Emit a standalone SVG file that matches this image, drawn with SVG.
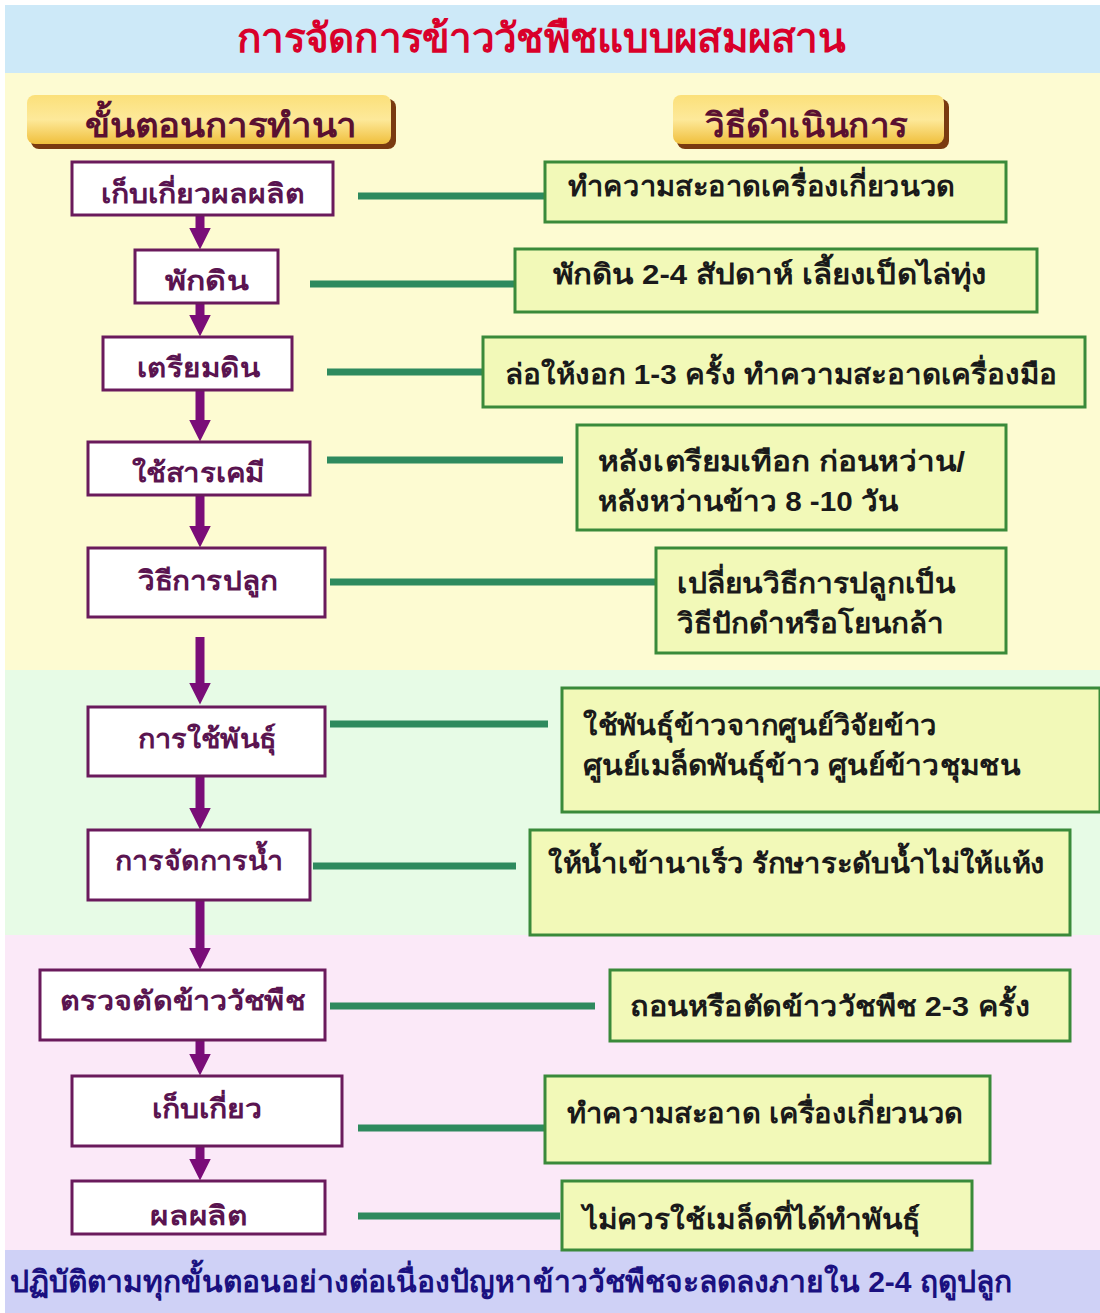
<svg xmlns="http://www.w3.org/2000/svg" width="1100" height="1313" viewBox="0 0 1100 1313">
<defs>
<linearGradient id="hdr" x1="0" y1="0" x2="0" y2="1">
<stop offset="0" stop-color="#fbe07a"/>
<stop offset="0.5" stop-color="#fde99a"/>
<stop offset="1" stop-color="#f0bf3c"/>
</linearGradient>
<marker id="ah" viewBox="0 0 10 10" refX="0.5" refY="5" markerWidth="2.4" markerHeight="3" orient="auto" markerUnits="strokeWidth">
<path d="M0,0 L10,5 L0,10 Z" fill="#7a0d78"/>
</marker>
</defs>
<style>
text{font-family:"Liberation Sans","Noto Sans","DejaVu Sans",sans-serif;font-weight:bold}
.node{fill:#ffffff;stroke:#6a1a5c;stroke-width:3}
.nt{fill:#5a1450;font-size:27px}
.box{fill:#f2f9b8;stroke:#3a8a3a;stroke-width:3}
.bt{fill:#1a1a1a;font-size:28px}
.link{stroke:#2e8a5e;stroke-width:7;fill:none}
.arr{stroke:#7a0d78;stroke-width:9;fill:none;marker-end:url(#ah)}
.ht{fill:#5a1030;font-size:34px}
</style>
<rect x="0" y="0" width="1100" height="1313" fill="#ffffff"/>
<rect x="5" y="5" width="1095" height="68" fill="#cde9f8"/>
<rect x="5" y="73" width="1095" height="597" fill="#fdfbd2"/>
<rect x="5" y="670" width="1095" height="265" fill="#e7fbe6"/>
<rect x="5" y="935" width="1095" height="315" fill="#fbe9f8"/>
<rect x="5" y="1250" width="1095" height="63" fill="#cfd1f6"/>
<text x="541" y="52" text-anchor="middle" fill="#d9002a" font-size="40" textLength="608" lengthAdjust="spacingAndGlyphs">การจัดการข้าววัชพืชแบบผสมผสาน</text>
<g id="header-left">
<rect x="31" y="99" width="365" height="50" rx="8" fill="#7a3a10"/>
<rect x="27" y="95" width="364" height="49" rx="8" fill="url(#hdr)"/>
<text class="ht" x="85" y="137" textLength="272" lengthAdjust="spacingAndGlyphs">ขั้นตอนการทำนา</text>
</g>
<g id="header-right">
<rect x="677" y="99" width="272" height="50" rx="8" fill="#7a3a10"/>
<rect x="673" y="95" width="271" height="49" rx="8" fill="url(#hdr)"/>
<text class="ht" x="705" y="137" textLength="203" lengthAdjust="spacingAndGlyphs">วิธีดำเนินการ</text>
</g>
<g id="connectors">
<line class="link" x1="358" y1="196" x2="545" y2="196"/>
<line class="link" x1="310" y1="284" x2="515" y2="284"/>
<line class="link" x1="327" y1="372" x2="483" y2="372"/>
<line class="link" x1="327" y1="460" x2="563" y2="460"/>
<line class="link" x1="330" y1="582" x2="656" y2="582"/>
<line class="link" x1="330" y1="724" x2="548" y2="724"/>
<line class="link" x1="313" y1="866" x2="516" y2="866"/>
<line class="link" x1="330" y1="1006" x2="595" y2="1006"/>
<line class="link" x1="358" y1="1128" x2="545" y2="1128"/>
<line class="link" x1="358" y1="1216" x2="560" y2="1216"/>
<line class="arr" x1="200" y1="215" x2="200" y2="229"/>
<line class="arr" x1="200" y1="303" x2="200" y2="316"/>
<line class="arr" x1="200" y1="390" x2="200" y2="421"/>
<line class="arr" x1="200" y1="495" x2="200" y2="527"/>
<line class="arr" x1="200" y1="637" x2="200" y2="684"/>
<line class="arr" x1="200" y1="776" x2="200" y2="809"/>
<line class="arr" x1="200" y1="900" x2="200" y2="949"/>
<line class="arr" x1="200" y1="1040" x2="200" y2="1055"/>
<line class="arr" x1="200" y1="1146" x2="200" y2="1160"/>
</g>
<g id="n1"><rect class="node" x="72" y="162" width="261" height="53"/><text class="nt" x="101" y="203" textLength="204" lengthAdjust="spacingAndGlyphs">เก็บเกี่ยวผลผลิต</text></g>
<g id="n2"><rect class="node" x="135" y="250" width="143" height="53"/><text class="nt" x="165" y="290" textLength="83" lengthAdjust="spacingAndGlyphs">พักดิน</text></g>
<g id="n3"><rect class="node" x="103" y="337" width="189" height="53"/><text class="nt" x="137" y="377" textLength="123" lengthAdjust="spacingAndGlyphs">เตรียมดิน</text></g>
<g id="n4"><rect class="node" x="88" y="442" width="222" height="53"/><text class="nt" x="132" y="482" textLength="133" lengthAdjust="spacingAndGlyphs">ใช้สารเคมี</text></g>
<g id="n5"><rect class="node" x="88" y="548" width="237" height="69"/><text class="nt" x="138" y="590" textLength="140" lengthAdjust="spacingAndGlyphs">วิธีการปลูก</text></g>
<g id="n6"><rect class="node" x="88" y="707" width="237" height="69"/><text class="nt" x="138" y="748" textLength="138" lengthAdjust="spacingAndGlyphs">การใช้พันธุ์</text></g>
<g id="n7"><rect class="node" x="88" y="830" width="222" height="70"/><text class="nt" x="115" y="870" textLength="168" lengthAdjust="spacingAndGlyphs">การจัดการน้ำ</text></g>
<g id="n8"><rect class="node" x="40" y="970" width="285" height="70"/><text class="nt" x="60" y="1010" textLength="245" lengthAdjust="spacingAndGlyphs">ตรวจตัดข้าววัชพืช</text></g>
<g id="n9"><rect class="node" x="72" y="1076" width="270" height="70"/><text class="nt" x="152" y="1118" textLength="110" lengthAdjust="spacingAndGlyphs">เก็บเกี่ยว</text></g>
<g id="n10"><rect class="node" x="72" y="1181" width="253" height="53"/><text class="nt" x="150" y="1225" textLength="98" lengthAdjust="spacingAndGlyphs">ผลผลิต</text></g>
<g id="b1"><rect class="box" x="545" y="162" width="461" height="60"/><text class="bt" x="568" y="196" textLength="387" lengthAdjust="spacingAndGlyphs">ทำความสะอาดเครื่องเกี่ยวนวด</text></g>
<g id="b2"><rect class="box" x="515" y="249" width="522" height="63"/><text class="bt" x="553" y="284" textLength="434" lengthAdjust="spacingAndGlyphs">พักดิน 2-4 สัปดาห์   เลี้ยงเป็ดไล่ทุ่ง</text></g>
<g id="b3"><rect class="box" x="483" y="337" width="602" height="70"/><text class="bt" x="505" y="384" textLength="552" lengthAdjust="spacingAndGlyphs">ล่อให้งอก  1-3 ครั้ง ทำความสะอาดเครื่องมือ</text></g>
<g id="b4"><rect class="box" x="577" y="425" width="429" height="105"/><text class="bt" x="598" y="471" textLength="367" lengthAdjust="spacingAndGlyphs">หลังเตรียมเทือก ก่อนหว่าน/</text><text class="bt" x="598" y="511" textLength="300" lengthAdjust="spacingAndGlyphs">หลังหว่านข้าว 8 -10 วัน</text></g>
<g id="b5"><rect class="box" x="656" y="548" width="350" height="105"/><text class="bt" x="677" y="593" textLength="278" lengthAdjust="spacingAndGlyphs">เปลี่ยนวิธีการปลูกเป็น</text><text class="bt" x="677" y="633" textLength="267" lengthAdjust="spacingAndGlyphs">วิธีปักดำหรือโยนกล้า</text></g>
<g id="b6"><rect class="box" x="562" y="688" width="538" height="124"/><text class="bt" x="583" y="735" textLength="354" lengthAdjust="spacingAndGlyphs">ใช้พันธุ์ข้าวจากศูนย์วิจัยข้าว</text><text class="bt" x="583" y="775" textLength="437" lengthAdjust="spacingAndGlyphs">ศูนย์เมล็ดพันธุ์ข้าว ศูนย์ข้าวชุมชน</text></g>
<g id="b7"><rect class="box" x="530" y="830" width="540" height="105"/><text class="bt" x="548" y="873" textLength="497" lengthAdjust="spacingAndGlyphs">ให้น้ำเข้านาเร็ว รักษาระดับน้ำไม่ให้แห้ง</text></g>
<g id="b8"><rect class="box" x="610" y="970" width="460" height="71"/><text class="bt" x="630" y="1016" textLength="400" lengthAdjust="spacingAndGlyphs">ถอนหรือตัดข้าววัชพืช  2-3 ครั้ง</text></g>
<g id="b9"><rect class="box" x="545" y="1076" width="445" height="87"/><text class="bt" x="567" y="1123" textLength="396" lengthAdjust="spacingAndGlyphs">ทำความสะอาด เครื่องเกี่ยวนวด</text></g>
<g id="b10"><rect class="box" x="562" y="1181" width="410" height="69"/><text class="bt" x="583" y="1229" textLength="337" lengthAdjust="spacingAndGlyphs">ไม่ควรใช้เมล็ดที่ได้ทำพันธุ์</text></g>
<text x="10" y="1292" fill="#1a1080" font-size="30" textLength="1002" lengthAdjust="spacingAndGlyphs">ปฏิบัติตามทุกขั้นตอนอย่างต่อเนื่องปัญหาข้าววัชพืชจะลดลงภายใน 2-4 ฤดูปลูก</text>
</svg>
